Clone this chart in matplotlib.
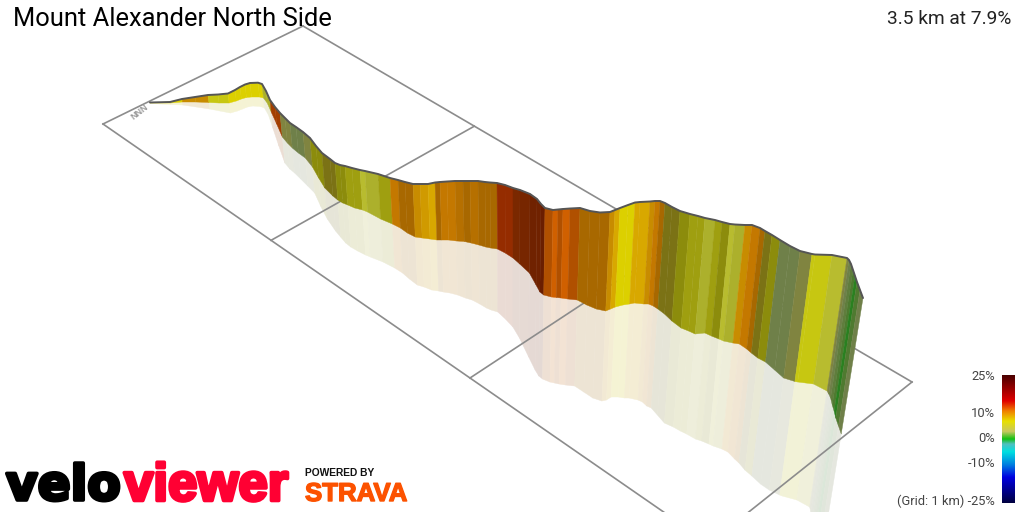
#!/usr/bin/env python3
import numpy as np
import matplotlib
matplotlib.use("Agg")
import matplotlib.pyplot as plt
import matplotlib.patheffects as pe
from matplotlib.collections import PolyCollection
from matplotlib.colors import LinearSegmentedColormap, Normalize

#####################################################################################
# route as it shows on screen
top_x = [150,170,182,195,208,218,228,235,240,245,250,258,262,266,270,275,280,285,290,296,303,
         310,316,322,330,335,340,345,352,360,365,378,390,398,405,413,420,428,435,440,447,
         455,463,470,478,485,490,497,505,513,520,530,537,541,545,553,558,563,570,580,590,
         600,610,615,620,628,635,640,650,655,660,665,672,680,690,698,705,715,722,730,735,
         745,752,760,765,772,780,790,800,812,815,832,847,849,851,853,855,857,860,863]
top_y = [102.5,102,99,97,95,94.5,93.5,90,87,84.5,83,82.7,84,91,100,107,113,118,123,127,132,
         138,146,153,159,163,165,166,168,170,171,174,178,180,182,184,184,184,182.5,182,181.5,
         181,181,181,181,182,182.5,183,185,188,190,194,199,204,208,210,209.5,209,208.5,208,211,
         212.5,212,210,208,205,202.5,202,201.5,201,201,203,207,211,214,216,218,220,222,224,224.5,
         225,225,228,231,235,240,246,251,254,254.5,255,258,260,264,270,276,282,290,298]
base_y = [103,103,102,102,102.5,103,103,101,99,97.5,97,97,98,103,112,124,137,143,148,153,158,
          167,178,188,196,200,203,205,208,210,212,219,224,228,233,237,238,239,240,240,240,
          241,241.5,243,245,247,248,249,253,258,264,273,285,292,295,297,297.5,298,299,300,305,
          309,311,309,307,305,304,303,304,304,306,309,314,321,328,331,334,333,336,339,341,
          343,344,349,353,358,362,370,378,381.5,382,384,391,394,398,405,411,418,426,434]
mirror_y = [103.5,104.5,105,107,109,111,113,111,109,107,106,106.5,108,115,128,146,163,169,173,179,186,
            193,207,219,231,237,243,247,251,255,257,262,268,273,279,285,287,290,291,292,293,
            295,298,300,304,308,310,312,319,327,338,357,370,376,379,382,383,384,385,386,392,
            398,401,400,397,397,398,398,400,402,406,408,415,423,427,431,434,439,441,444,446,
            449,452,459,463,470,476,484,490,495,496,500,507,512,522,533,544,552,561,570]
# gradient (%) of the strip that starts at each route sample
gradient = [7,7,9,9,6,6,7,7,7,7,7,7,5,5,14,14,3.5,3.5,3,3,3.5,
            4,4,3.7,3.7,4,4,4.5,4.5,5.5,5,4.5,10,11,11,9,8.5,8,11,10,10,
            10.5,11,10.5,11,11,11,15,15,17,18,20,20,22,13,12,13,12,13,11,11,
            11,9,8,7,7,8,8,9,10,11,3.7,3.7,4,4.5,4.5,5,4.5,4,5.5,5,
            9,10,11,3.7,4,3,3,3.5,6,6,5.5,3.5,3,2.5,2,1,2,3]

grid_km = [0,1,2,3]
grid_cross = [0,1]

legend_ticks = [25,10,0,-10,-25]
legend_labels = ["25%","10%","0%","-10%","(Grid: 1 km) -25%"]

# colours of the gradient scale and of the lit wall
scale_stops = [(-25,'#000040'),(-15,'#0000e0'),(-10,'#0080e0'),(-5,'#00e0e0'),(-2,'#50c0c0'),
               (0,'#10c010'),(3,'#c8c860'),(7,'#e8e000'),(11,'#f08000'),(15,'#e00000'),(25,'#4a0000')]
wall_stops = [(1,'#2a8020'),(2,'#507a30'),(3,'#70804a'),(3.5,'#808440'),(3.7,'#7a7010'),(4,'#8c8c0c'),(4.5,'#a0a010'),
              (5,'#acb02c'),(5.5,'#b8bc30'),(6,'#c8c810'),(7,'#dcd000'),(8,'#d8a800'),(9,'#c88c00'),
              (10,'#c47800'),(11,'#a86800'),(12,'#d06000'),(13,'#b05000'),(15,'#952c00'),(17,'#7a2800'),(25,'#601800')]

#####################################################################################
def make_cmap(stops):
    lo, hi = stops[0][0], stops[-1][0]
    return LinearSegmentedColormap.from_list("c", [((v-lo)/(hi-lo), c) for v, c in stops], N=512), Normalize(lo, hi)

def homography(src, dst):
    rows = []
    for (u, v), (x, y) in zip(src, dst):
        rows.append([u, v, 1, 0, 0, 0, -u*x, -v*x, -x])
        rows.append([0, 0, 0, u, v, 1, -u*y, -v*y, -y])
    return np.linalg.svd(np.array(rows, float))[2][-1].reshape(3, 3)

def project(h, u, v):
    w = h @ np.array([u, v, 1.0])
    return w[0]/w[2], w[1]/w[2]

#####################################################################################
fig = plt.figure(figsize=(10.24, 5.12), dpi=100)
ax = fig.add_axes([0, 0, 1, 1])
ax.set_xlim(0, 1024)
ax.set_ylim(512, 0)
ax.axis('off')

scale_cmap, scale_norm = make_cmap(scale_stops)
wall_cmap, wall_norm = make_cmap(wall_stops)

#####################################################################################
# walls lean towards a vanishing point below the picture
vp_x, vp_y = 512, 2490
tx = np.array(top_x, float)
ty = np.array(top_y, float)
by = np.array(base_y, float)
my = np.array(mirror_y, float)
bx = tx + (vp_x-tx)*(by-ty)/(vp_y-ty)
mx = tx + (vp_x-tx)*(my-ty)/(vp_y-ty)

wall_cols = wall_cmap(wall_norm(gradient))
pale_cols = (1 - 0.15*(1 - wall_cols))*0.98
pale_cols[:, 3] = 1

mirror_polys = [[(bx[i], by[i]), (bx[i+1], by[i+1]), (mx[i+1], my[i+1]), (mx[i], my[i])] for i in range(len(gradient))]
wall_polys = [[(tx[i], ty[i]), (tx[i+1], ty[i+1]), (bx[i+1], by[i+1]), (bx[i], by[i])] for i in range(len(gradient))]

ax.add_collection(PolyCollection(mirror_polys, facecolors=pale_cols, edgecolors=pale_cols, linewidths=0.3, zorder=1))

#####################################################################################
# 1 km ground grid
h = homography([(0, 0), (0, 1), (3, 1), (2, 0)], [(103, 124), (303, 26), (912, 382), (470, 378)])
for km in grid_km:
    p = [project(h, km, c) for c in grid_cross]
    ax.plot([p[0][0], p[1][0]], [p[0][1], p[1][1]], color='#8c8c8c', lw=1.2, zorder=2)
for c in grid_cross:
    p = [project(h, km, c) for km in (grid_km[0], grid_km[-1])]
    ax.plot([p[0][0], p[1][0]], [p[0][1], p[1][1]], color='#8c8c8c', lw=1.2, zorder=2)

ax.add_collection(PolyCollection(wall_polys, facecolors=wall_cols, edgecolors=wall_cols, linewidths=0.3, zorder=3))
ax.plot(tx, ty, color='#555555', lw=1.4, zorder=4, solid_capstyle='round')

# north marker
ax.text(140, 112, "NNN", color='#999999', fontsize=6.5, fontweight='bold', rotation=38,
        ha='center', va='center', family='Liberation Sans', zorder=2)

#####################################################################################
# titles
ax.text(13, 19, "Mount Alexander North Side", fontsize=18.4, family='Roboto', color='black', va='center', ha='left')
ax.text(1011, 19, "3.5 km at 7.9%", fontsize=13.8, family='Roboto', color='#222222', va='center', ha='right')

# gradient scale
grad_vals = np.linspace(25, -25, 256).reshape(-1, 1)
ax.imshow(grad_vals, cmap=scale_cmap, norm=scale_norm, extent=[1002, 1015, 503, 375], aspect='auto', zorder=5)
ax.set_xlim(0, 1024)
ax.set_ylim(512, 0)
for v, lab in zip(legend_ticks, legend_labels):
    ypos = 438.5 - v*2.5
    ax.text(995, ypos, lab, fontsize=9.3, family='Roboto', color='#444444', va='center', ha='right')

#####################################################################################
# logos
fat = lambda col, w: [pe.withStroke(linewidth=w, foreground=col)]
ax.text(6, 500, "velo", fontsize=35, family='DejaVu Sans', fontweight='bold', color='black',
        va='baseline', ha='left', path_effects=fat('black', 2.6))
ax.text(124, 500.5, "viewer", fontsize=38, family='Liberation Sans', fontweight='bold', color='#ff0033',
        va='baseline', ha='left', path_effects=fat('#ff0033', 2.6))
ax.text(305, 476, "POWERED BY", fontsize=7.4, family='Liberation Sans', fontweight='bold', color='#111111',
        va='baseline', ha='left')
ax.text(305, 501, "STRAVA", fontsize=18.6, family='Liberation Sans', fontweight='bold', color='#fc5200',
        va='baseline', ha='left', path_effects=fat('#fc5200', 1.0))

#####################################################################################
fig.savefig("out.png", dpi=100)
